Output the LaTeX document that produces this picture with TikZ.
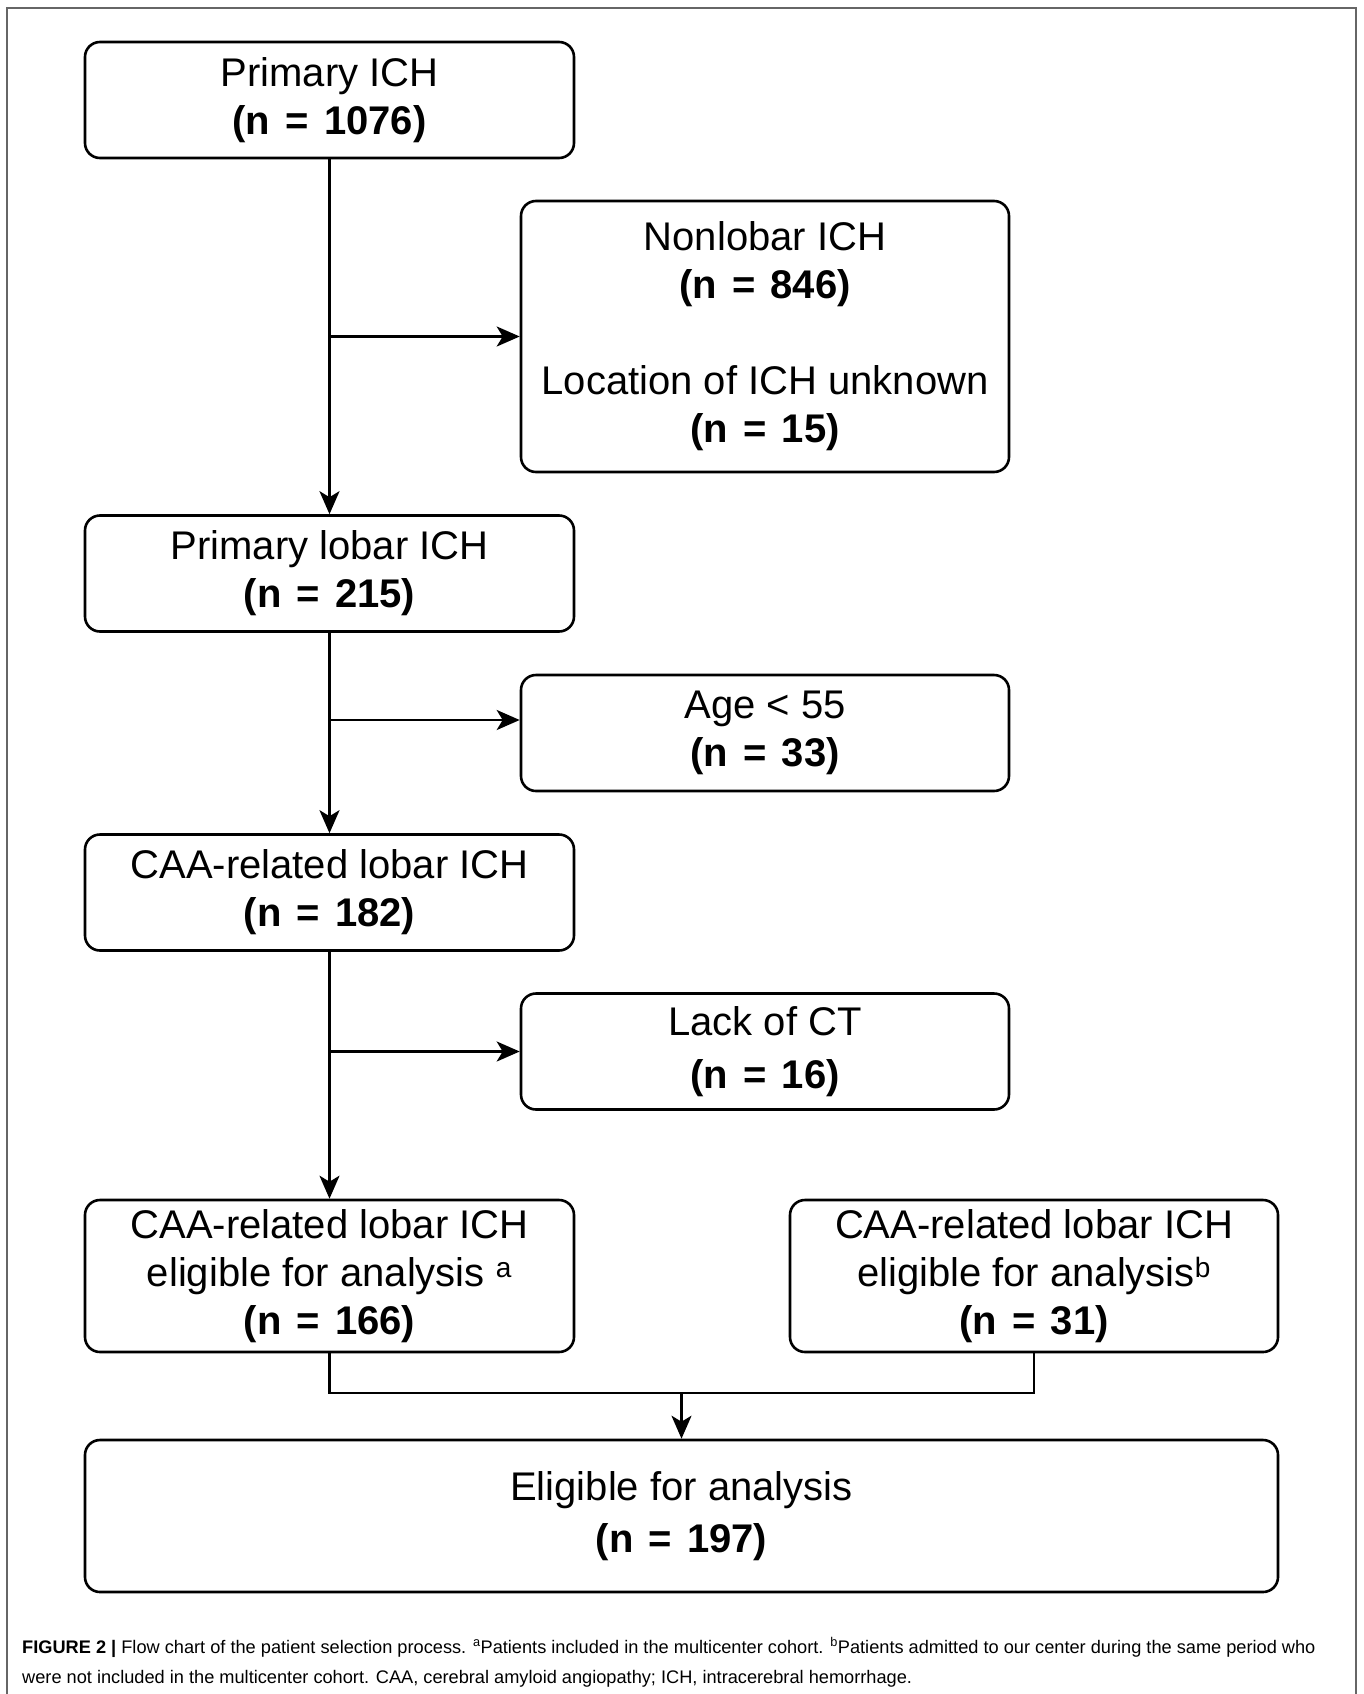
\documentclass[tikz,border=0pt]{standalone}
\usepackage{fontspec}
\setmainfont{Liberation Sans}
\usetikzlibrary{arrows.meta}
\newcommand\nval[1]{\textbf{(n\hspace{0.38em}=\hspace{0.38em}#1)}}

\begin{document}
\begin{tikzpicture}[x=1pt,y=-1pt,
    box/.style={draw,line width=2.6pt,rounded corners=15pt,align=center,inner sep=0pt,
        font=\fontsize{40}{48}\selectfont},
    narrowbox/.style={box,minimum width=489pt,minimum height=116pt},
    tallbox/.style={box,minimum width=489pt,minimum height=152pt},
    flow/.style={line width=2.6pt},
    arr/.style={flow,-{Stealth[length=23pt,width=20pt,inset=6pt]}},
    captext/.style={anchor=base west,inner sep=0pt,font=\fontsize{18.2}{22}\selectfont}]
    \useasboundingbox(0,0)rectangle(1363,1694);
    \draw[black!60,line width=2pt](7,1700)--(7,8)--(1356,8)--(1356,1700);

    \node[narrowbox](prim)at(329.5,100){Primary ICH\\\nval{1076}};
    \node[box,minimum width=488pt,minimum height=271pt](excla)at(765,336.5)
        {Nonlobar ICH\\\nval{846}\\[48pt]Location of ICH unknown\\\nval{15}};
    \node[narrowbox](lobar)at(329.5,573.5){Primary lobar ICH\\\nval{215}};
    \node[narrowbox,minimum width=488pt](exclb)at(765,733){Age < 55\\\nval{33}};
    \node[narrowbox](caa)at(329.5,892.5){CAA-related lobar ICH\\\nval{182}};
    \node[narrowbox,minimum width=488pt](exclc)at(765,1051.5){Lack of CT\\[5pt]\nval{16}};
    \node[tallbox](inca)at(329.5,1276)
        {CAA-related lobar ICH\\eligible for analysis \textsuperscript{a}\\\nval{166}};
    \node[tallbox,minimum width=488pt](incb)at(1034,1276)
        {CAA-related lobar ICH\\eligible for analysis\textsuperscript{b}\\\nval{31}};
    \node[tallbox,minimum width=1193pt](elig)at(681.5,1516){Eligible for analysis\\[4pt]\nval{197}};

    \draw[arr](prim)--(lobar);
    \draw[arr](prim.south|-excla.west)--(excla.west);
    \draw[arr](lobar)--(caa);
    \draw[arr]([yshift=13pt]lobar.south|-exclb.west)--([yshift=13pt]exclb.west);
    \draw[arr](caa)--(inca);
    \draw[arr](caa.south|-exclc.west)--(exclc.west);

    \coordinate(join)at(681.5,1393);
    \draw[flow](inca.south)|-(join)-|(incb.south);
    \draw[arr](join)--(elig.north);

    \node[captext](capa)at(22,1653){\textbf{FIGURE 2 |} Flow chart of the patient selection process. \textsuperscript{a}Patients included in the multicenter cohort. \textsuperscript{b}Patients admitted to our center during the same period who};
    \node[captext](capb)at(22,1683){were not included in the multicenter cohort. CAA, cerebral amyloid angiopathy; ICH, intracerebral hemorrhage.};
\end{tikzpicture}
\end{document}
